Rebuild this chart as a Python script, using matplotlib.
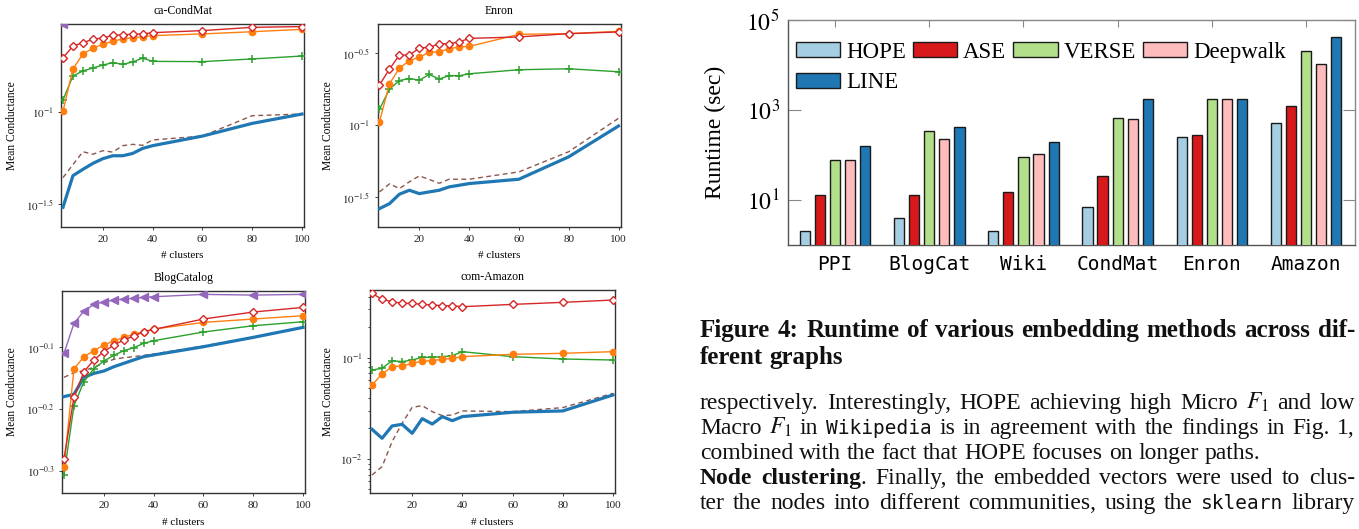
import numpy as np
import matplotlib
matplotlib.use("Agg")
import matplotlib.pyplot as plt
from matplotlib.ticker import FixedLocator, FixedFormatter, NullLocator, LogLocator, NullFormatter

plt.rcParams['font.family'] = ['Liberation Serif', 'DejaVu Serif']
plt.rcParams['mathtext.fontset'] = 'stix'

# ---------------- data: node clustering panels ----------------
clusters = [4, 8, 12, 16, 20, 24, 28, 32, 36, 40, 60, 80, 100]

condmat_blue = [0.0305, 0.0453, 0.0490, 0.0528, 0.0560, 0.0581, 0.0581, 0.0598, 0.0637, 0.0659, 0.0743, 0.0871, 0.0979]
condmat_brown = [0.0442, 0.0520, 0.0611, 0.0592, 0.0619, 0.0608, 0.0659, 0.0670, 0.0662, 0.0708, 0.0743, 0.0959, 0.0979]
condmat_green = [0.1167, 0.1576, 0.1679, 0.1742, 0.1807, 0.1862, 0.1824, 0.1877, 0.1972, 0.1892, 0.1886, 0.1950, 0.2023]
condmat_orange = [0.1016, 0.1720, 0.2075, 0.2229, 0.2344, 0.2432, 0.2506, 0.2547, 0.2576, 0.2612, 0.2667, 0.2742, 0.2825]
condmat_red = [0.198, 0.229, 0.239, 0.2495, 0.2535, 0.262, 0.264, 0.2655, 0.2667, 0.271, 0.278, 0.2897, 0.2924]
condmat_purple = [0.302, None, None, None, None, None, None, None, None, None, None, None, None]

enron_blue = [0.02624, 0.02838, 0.03304, 0.03519, 0.03334, 0.03428, 0.03519, 0.03715, 0.03811, 0.03917, 0.04198, 0.0601, 0.0984]
enron_brown = [0.03428, 0.03899, 0.03614, 0.04027, 0.04430, 0.04178, 0.03936, 0.04198, 0.04198, 0.04198, 0.0472, 0.0652, 0.1113]
enron_green = [0.1285, 0.1774, 0.2037, 0.2104, 0.2051, 0.2244, 0.2084, 0.2208, 0.2198, 0.2270, 0.2421, 0.2460, 0.2344]
enron_orange = [0.1054, 0.1932, 0.2483, 0.2796, 0.2965, 0.3199, 0.3228, 0.3388, 0.3483, 0.3519, 0.4266, 0.4315, 0.4477]
enron_red = [0.190, 0.2443, 0.3062, 0.3062, 0.3428, 0.3464, 0.3673, 0.3673, 0.3776, 0.3999, 0.4093, 0.4315, 0.4431]
enron_purple = [None] * 13

blog_blue = [0.6607, 0.6665, 0.7101, 0.7206, 0.7270, 0.7388, 0.7482, 0.7578, 0.7672, 0.7720, 0.7962, 0.8245, 0.8559]
blog_brown = [0.7101, 0.7225, 0.7280, 0.7371, 0.7499, 0.7595, 0.7642, 0.7672, 0.7709, 0.7748, 0.7984, 0.8245, 0.8559]
blog_green = [0.4932, 0.6389, 0.6986, 0.7334, 0.7547, 0.7709, 0.7845, 0.7934, 0.8063, 0.8143, 0.8412, 0.8612, 0.8741]
blog_orange = [0.5073, 0.7327, 0.7672, 0.7845, 0.8013, 0.8134, 0.8245, 0.8339, 0.8420, 0.8504, 0.8720, 0.8831, 0.8941]
blog_red = [0.5236, 0.6592, 0.7253, 0.7578, 0.7816, 0.8013, 0.8163, 0.8286, 0.8420, 0.8494, 0.8831, 0.9065, 0.9223]
blog_purple = [0.7768, 0.8687, 0.9097, 0.9326, 0.9418, 0.9480, 0.9515, 0.9539, 0.9574, 0.9598, 0.9683, 0.9658, 0.9683]

amazon_blue = [0.01963, 0.01600, 0.02118, 0.02198, 0.01791, 0.02500, 0.02213, 0.02618, 0.02388, 0.02618, 0.02891, 0.02979, 0.04285]
amazon_brown = [0.00695, 0.00839, 0.01483, 0.02249, 0.03236, 0.03357, 0.02931, 0.02679, 0.02716, 0.02979, 0.02931, 0.03214, 0.04446]
amazon_green = [0.0755, 0.0785, 0.0933, 0.0914, 0.0948, 0.1007, 0.1007, 0.1023, 0.1047, 0.1146, 0.1023, 0.0970, 0.0948]
amazon_orange = [0.0537, 0.0690, 0.0815, 0.0828, 0.0879, 0.0927, 0.0933, 0.0964, 0.0984, 0.1023, 0.1079, 0.1104, 0.1146]
amazon_red = [0.4315, 0.3767, 0.3573, 0.3436, 0.3436, 0.3357, 0.3311, 0.3258, 0.3258, 0.3184, 0.3357, 0.3516, 0.3707]
amazon_purple = [None] * 13

panel_titles = ["ca-CondMat", "Enron", "BlogCatalog", "com-Amazon"]

# ---------------- data: runtime bar chart ----------------
graphs = ["PPI", "BlogCat", "Wiki", "CondMat", "Enron", "Amazon"]
methods = ["HOPE", "ASE", "VERSE", "Deepwalk", "LINE"]
runtime_hope = [2.0, 4.0, 2.0, 6.9, 250, 526]
runtime_ase = [12.7, 12.7, 15, 35, 276, 1225]
runtime_verse = [79, 350, 90, 678, 1800, 20700]
runtime_deepwalk = [76, 229, 103, 633, 1800, 10500]
runtime_line = [161, 422, 197, 1800, 1800, 42900]

W, H = 1359, 529
fig = plt.figure(figsize=(W / 100, H / 100), dpi=100)


def rect(l, t, r, b):
    return [l / W, 1 - b / H, (r - l) / W, (b - t) / H]


def arr(v):
    return np.array([np.nan if x is None else x for x in v], dtype=float)


panels = [
    (rect(61, 24, 304, 227), (condmat_blue, condmat_brown, condmat_green, condmat_orange, condmat_red, condmat_purple),
     (10 ** -1.623, 10 ** -0.52), [10 ** -1.5, 10 ** -1], ['$10^{-1.5}$', '$10^{-1}$'], False, -0.177),
    (rect(377.5, 24, 620.5, 227), (enron_blue, enron_brown, enron_green, enron_orange, enron_red, enron_purple),
     (10 ** -1.709, 10 ** -0.298), [10 ** -1.5, 10 ** -1, 10 ** -0.5], ['$10^{-1.5}$', '$10^{-1}$', '$10^{-0.5}$'], False, -0.179),
    (rect(62, 290.7, 305, 493.3), (blog_blue, blog_brown, blog_green, blog_orange, blog_red, blog_purple),
     (10 ** -0.337, 10 ** -0.008), [10 ** -0.3, 10 ** -0.2, 10 ** -0.1], ['$10^{-0.3}$', '$10^{-0.2}$', '$10^{-0.1}$'], False, -0.181),
    (rect(370, 290, 615, 493.3), (amazon_blue, amazon_brown, amazon_green, amazon_orange, amazon_red, amazon_purple),
     (10 ** -2.339, 10 ** -0.332), [10 ** -2, 10 ** -1], ['$10^{-2}$', '$10^{-1}$'], True, -0.147),
]

C_BLUE, C_ORANGE, C_GREEN, C_RED, C_PURPLE, C_BROWN = '#1f77b4', '#ff7f0e', '#2ca02c', '#d62728', '#9467bd', '#8c564b'

for (pos, series, ylim, yt, ytl, minor, ylx), title in zip(panels, panel_titles):
    ax = fig.add_axes(pos)
    blue, brown, green, orange, red, purple = [arr(s) for s in series]
    ax.plot(clusters, brown, color=C_BROWN, lw=1.0, ls=(0, (3.5, 2.5)), zorder=2)
    ax.plot(clusters, blue, color=C_BLUE, lw=2.3, zorder=3)
    ax.plot(clusters, green, color=C_GREEN, lw=1.0, marker='+', ms=6, mew=1.1, zorder=4)
    ax.plot(clusters, orange, color=C_ORANGE, lw=1.0, marker='o', ms=4.5, zorder=5)
    ax.plot(clusters, red, color=C_RED, lw=1.0, marker='D', ms=4.2, mfc='white', mec=C_RED, mew=1.0, zorder=6)
    ax.plot(clusters, purple, color=C_PURPLE, lw=1.0, marker='<', ms=5.5, zorder=7)
    ax.set_yscale('log')
    ax.set_xlim(3.2, 100.8)
    ax.set_ylim(*ylim)
    ax.yaxis.set_major_locator(FixedLocator(yt))
    ax.yaxis.set_major_formatter(FixedFormatter(ytl))
    if minor:
        ax.yaxis.set_minor_locator(LogLocator(base=10, subs=np.arange(2, 10)))
        ax.yaxis.set_minor_formatter(NullFormatter())
    else:
        ax.yaxis.set_minor_locator(NullLocator())
    ax.set_xticks([20, 40, 60, 80, 100])
    ax.tick_params(axis='both', labelsize=8, colors='#222222', length=2.5, width=0.6, direction='out', pad=3)
    ax.tick_params(axis='y', which='minor', length=1.5, width=0.5)
    for s in ax.spines.values():
        s.set_color('#333333')
        s.set_linewidth(1.0)
    ax.set_title(title, fontsize=8.5, pad=7)
    ax.set_ylabel('Mean Conductance', fontsize=8.3)
    ax.yaxis.set_label_coords(ylx, 0.5)
    ax.set_xlabel('# clusters', fontsize=8)
    ax.xaxis.set_label_coords(0.5, -0.12)

# ---------------- runtime bar chart ----------------
bx = fig.add_axes(rect(788, 20, 1355, 245))
bar_series = [runtime_hope, runtime_ase, runtime_verse, runtime_deepwalk, runtime_line]
bar_colors = ['#a6cee3', '#d7191c', '#b2df8a', '#ffbcbc', '#1f78b4']
xpos = np.arange(len(graphs))
bw = 0.108
step = 0.16
handles = []
for i, (vals, col, lab) in enumerate(zip(bar_series, bar_colors, methods)):
    h = bx.bar(xpos + (i - 2) * step, vals, width=bw, color=col, edgecolor='#1a1a1a', linewidth=1.0, label=lab, zorder=3)
    handles.append(h)
bx.set_yscale('log')
bx.set_ylim(1, 1e5)
bx.set_xlim(-0.5, 5.52)
bx.yaxis.set_major_locator(FixedLocator([10, 1e3, 1e5]))
bx.yaxis.set_major_formatter(FixedFormatter(['$10^{1}$', '$10^{3}$', '$10^{5}$']))
bx.yaxis.set_minor_locator(NullLocator())
bx.set_xticks(xpos)
bx.set_xticklabels(graphs, family='DejaVu Sans Mono', fontsize=14)
bx.tick_params(axis='x', direction='in', length=5, width=0.8, color='#888888', top=True, bottom=False, pad=7)
bx.tick_params(axis='y', direction='in', length=9, width=0.8, color='#888888', right=True, labelsize=17, pad=6)
for k, s in bx.spines.items():
    s.set_linewidth(1.0)
    s.set_color('#555555' if k in ('left', 'bottom') else '#888888')
bx.set_ylabel('Runtime (sec)', fontsize=17)
bx.yaxis.set_label_coords(-0.11, 0.5)
# legend filled row-wise: HOPE ASE VERSE Deepwalk / LINE
order = [0, 4, 1, 2, 3]
leg = bx.legend([handles[i] for i in order], [methods[i] for i in order], loc='upper left', ncol=4,
                frameon=False, fontsize=16.5, bbox_to_anchor=(-0.011, 0.965),
                handlelength=1.95, handleheight=0.62, handletextpad=0.25, columnspacing=0.3,
                labelspacing=0.42, borderaxespad=0.2)

# ---------------- caption and body text (justified) ----------------
fig.canvas.draw()
renderer = fig.canvas.get_renderer()

styles = {
    'rm': dict(family=['Liberation Serif', 'DejaVu Serif'], fontsize=17, color='#111111'),
    'bf': dict(family=['Liberation Serif', 'DejaVu Serif'], fontsize=17, weight='bold', color='#111111'),
    'tt': dict(family=['DejaVu Sans Mono'], fontsize=14, color='#111111'),
    'cap': dict(family=['Liberation Serif', 'DejaVu Serif'], fontsize=18, weight='bold', color='#111111'),
}


def width_of(txt, st):
    t = fig.text(0, 0, txt, **styles[st])
    w = t.get_window_extent(renderer).width
    t.remove()
    return w


def words_from(pieces):
    words = [[]]
    for txt, st in pieces:
        parts = txt.split(' ')
        for j, p in enumerate(parts):
            if j > 0:
                words.append([])
            if p:
                words[-1].append((p, st))
    return [w for w in words if w]


def place_line(pieces, x0, x1, baseline, justify=True):
    words = words_from(pieces)
    widths = [[width_of(p, st) for p, st in w] for w in words]
    total = sum(sum(ws) for ws in widths)
    st0 = pieces[0][1]
    space = width_of('a b', st0) - width_of('ab', st0)
    gap = (x1 - x0 - total) / (len(words) - 1) if justify and len(words) > 1 else space
    x = x0
    for w, ws in zip(words, widths):
        for (p, st), pw in zip(w, ws):
            fig.text(x / W, 1 - baseline / H, p, ha='left', va='baseline', **styles[st])
            x += pw
        x += gap


TX0, TX1 = 700, 1355
place_line([("Figure 4: Runtime of various embedding methods across dif-", 'cap')], TX0, TX1, 337)
place_line([("ferent graphs", 'cap')], TX0, TX1, 364, justify=False)
place_line([("respectively. Interestingly, HOPE achieving high Micro $F_1$ and low", 'rm')], TX0, TX1, 409)
place_line([("Macro $F_1$ in ", 'rm'), ("Wikipedia", 'tt'), (" is in agreement with the findings in Fig. 1,", 'rm')], TX0, TX1, 434)
place_line([("combined with the fact that HOPE focuses on longer paths.", 'rm')], TX0, TX1, 459, justify=False)
place_line([("Node clustering", 'bf'), (". Finally, the embedded vectors were used to clus-", 'rm')], TX0, TX1, 484)
place_line([("ter the nodes into different communities, using the ", 'rm'), ("sklearn", 'tt'), (" library", 'rm')], TX0, TX1, 509)

fig.savefig('out.png', dpi=100)
